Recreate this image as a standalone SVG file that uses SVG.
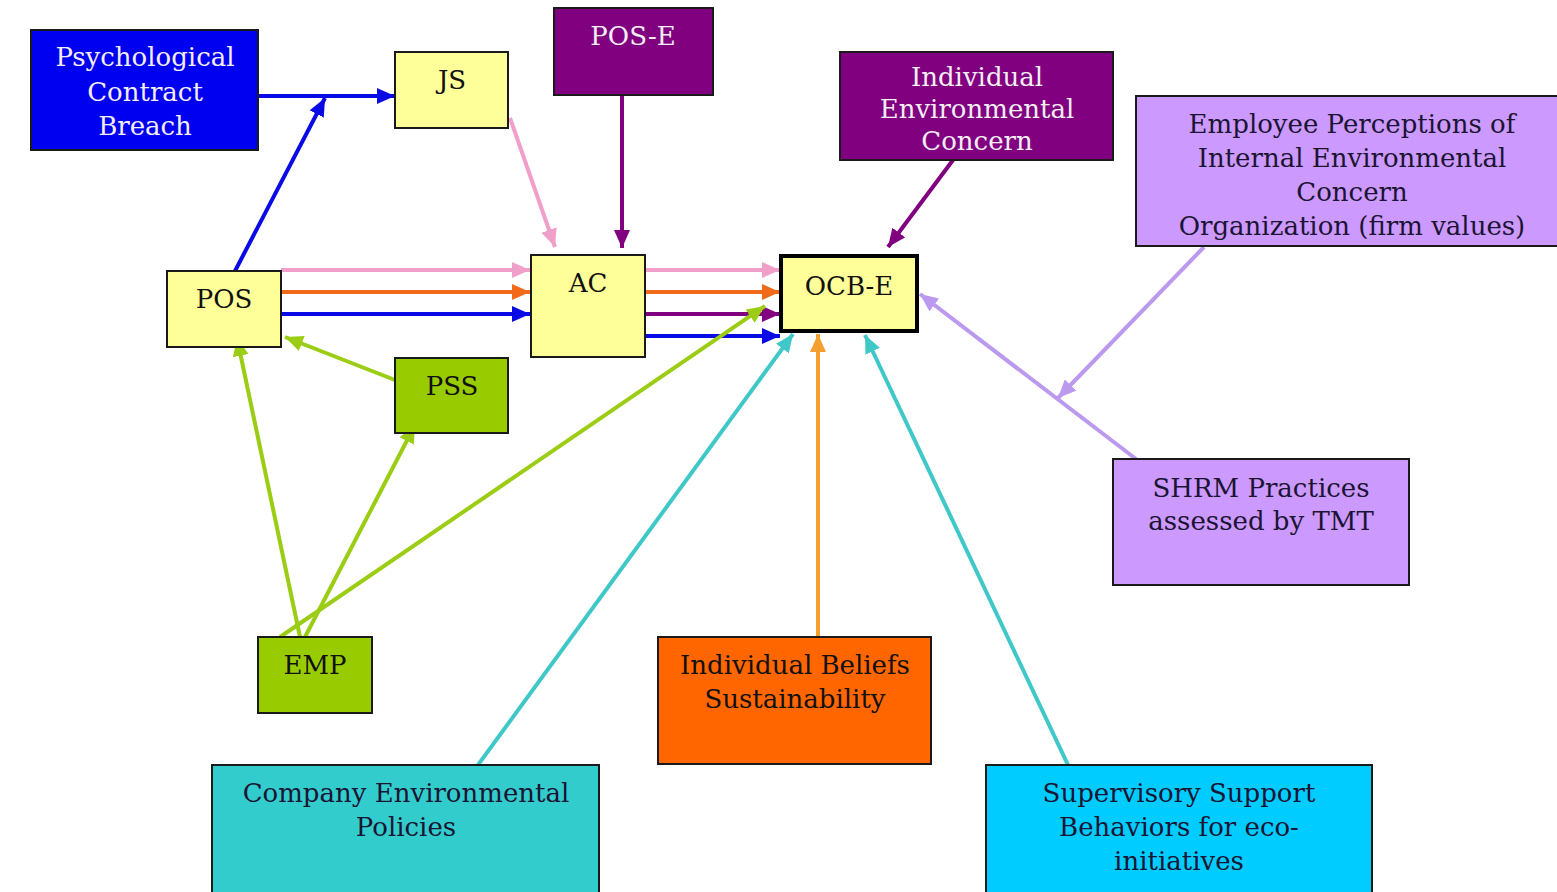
<svg xmlns="http://www.w3.org/2000/svg" width="1557" height="892" viewBox="0 0 1557 892">
  <style>
    .box { stroke: #1a1a1a; stroke-width: 2; }
    .lbl { font-family: "DejaVu Serif", "Liberation Serif", serif; font-size: 26px; text-anchor: middle; fill: #111; }
    .lt { fill: #f4eef4; }
    .dk { fill: #1b1433; }
    .c { fill: none; stroke-width: 4; }
  </style>
  <defs>
    <marker id="a-blue" markerUnits="userSpaceOnUse" markerWidth="18" markerHeight="16" refX="18" refY="8" orient="auto"><path d="M0,0 L18,8 L0,16 z" fill="#0a0ae6"/></marker>
    <marker id="a-pink" markerUnits="userSpaceOnUse" markerWidth="18" markerHeight="16" refX="18" refY="8" orient="auto"><path d="M0,0 L18,8 L0,16 z" fill="#f0a0c8"/></marker>
    <marker id="a-orange" markerUnits="userSpaceOnUse" markerWidth="18" markerHeight="16" refX="18" refY="8" orient="auto"><path d="M0,0 L18,8 L0,16 z" fill="#f06a1a"/></marker>
    <marker id="a-purple" markerUnits="userSpaceOnUse" markerWidth="18" markerHeight="16" refX="18" refY="8" orient="auto"><path d="M0,0 L18,8 L0,16 z" fill="#800080"/></marker>
    <marker id="a-green" markerUnits="userSpaceOnUse" markerWidth="18" markerHeight="16" refX="18" refY="8" orient="auto"><path d="M0,0 L18,8 L0,16 z" fill="#9acd14"/></marker>
    <marker id="a-lav" markerUnits="userSpaceOnUse" markerWidth="18" markerHeight="16" refX="18" refY="8" orient="auto"><path d="M0,0 L18,8 L0,16 z" fill="#bb99ee"/></marker>
    <marker id="a-teal" markerUnits="userSpaceOnUse" markerWidth="18" markerHeight="16" refX="18" refY="8" orient="auto"><path d="M0,0 L18,8 L0,16 z" fill="#40c8c8"/></marker>
    <marker id="a-amber" markerUnits="userSpaceOnUse" markerWidth="18" markerHeight="16" refX="18" refY="8" orient="auto"><path d="M0,0 L18,8 L0,16 z" fill="#f4a030"/></marker>
  </defs>

  <rect width="1557" height="892" fill="#ffffff"/>

  <!-- connectors -->
  <g id="connectors">
    <line class="c" x1="258" y1="96" x2="395" y2="96" stroke="#0a0ae6" marker-end="url(#a-blue)"/>
    <line class="c" x1="235" y1="271" x2="325" y2="98" stroke="#0a0ae6" marker-end="url(#a-blue)"/>
    <line class="c" x1="510" y1="118" x2="555" y2="247" stroke="#f0a0c8" marker-end="url(#a-pink)"/>
    <line class="c" x1="622" y1="95" x2="622" y2="248" stroke="#800080" marker-end="url(#a-purple)"/>

    <line class="c" x1="281" y1="270" x2="530" y2="270" stroke="#f0a0c8" marker-end="url(#a-pink)"/>
    <line class="c" x1="281" y1="292" x2="530" y2="292" stroke="#f06a1a" marker-end="url(#a-orange)"/>
    <line class="c" x1="281" y1="314" x2="530" y2="314" stroke="#0a0ae6" marker-end="url(#a-blue)"/>

    <line class="c" x1="645" y1="270" x2="780" y2="270" stroke="#f0a0c8" marker-end="url(#a-pink)"/>
    <line class="c" x1="645" y1="292" x2="780" y2="292" stroke="#f06a1a" marker-end="url(#a-orange)"/>
    <line class="c" x1="645" y1="314" x2="780" y2="314" stroke="#800080" marker-end="url(#a-purple)"/>
    <line class="c" x1="645" y1="336" x2="780" y2="336" stroke="#0a0ae6" marker-end="url(#a-blue)"/>

    <line class="c" x1="953" y1="160" x2="888" y2="247" stroke="#800080" marker-end="url(#a-purple)"/>
    <line class="c" x1="1204" y1="247" x2="1058" y2="398" stroke="#bb99ee" marker-end="url(#a-lav)"/>
    <line class="c" x1="1136" y1="459" x2="920" y2="294" stroke="#bb99ee" marker-end="url(#a-lav)"/>

    <line class="c" x1="395" y1="380" x2="285" y2="337" stroke="#9acd14" marker-end="url(#a-green)"/>
    <line class="c" x1="300" y1="637" x2="237" y2="338" stroke="#9acd14" marker-end="url(#a-green)"/>
    <line class="c" x1="305" y1="637" x2="415" y2="425" stroke="#9acd14" marker-end="url(#a-green)"/>
    <line class="c" x1="280" y1="637" x2="765" y2="306" stroke="#9acd14" marker-end="url(#a-green)"/>

    <line class="c" x1="478" y1="765" x2="793" y2="334" stroke="#40c8c8" marker-end="url(#a-teal)"/>
    <line class="c" x1="818" y1="637" x2="818" y2="334" stroke="#f4a030" marker-end="url(#a-amber)"/>
    <line class="c" x1="1068" y1="765" x2="865" y2="335" stroke="#40c8c8" marker-end="url(#a-teal)"/>
  </g>

  <!-- nodes -->
  <g id="pcb">
    <rect class="box" x="31" y="30" width="227" height="120" fill="#0000f0"/>
    <text class="lbl lt" x="145" y="66">Psychological</text>
    <text class="lbl lt" x="145" y="101">Contract</text>
    <text class="lbl lt" x="145" y="135">Breach</text>
  </g>
  <g id="js">
    <rect class="box" x="395" y="52" width="113" height="76" fill="#ffff99"/>
    <text class="lbl" x="452" y="89">JS</text>
  </g>
  <g id="pose">
    <rect class="box" x="554" y="8" width="159" height="87" fill="#800080"/>
    <text class="lbl lt" x="633" y="45">POS-E</text>
  </g>
  <g id="iec">
    <rect class="box" x="840" y="52" width="273" height="108" fill="#800080"/>
    <text class="lbl lt" x="977" y="86">Individual</text>
    <text class="lbl lt" x="977" y="118">Environmental</text>
    <text class="lbl lt" x="977" y="150">Concern</text>
  </g>
  <g id="epiec">
    <rect class="box" x="1136" y="96" width="425" height="150" fill="#cc99ff"/>
    <text class="lbl dk" x="1352" y="133">Employee Perceptions of</text>
    <text class="lbl dk" x="1352" y="167">Internal Environmental</text>
    <text class="lbl dk" x="1352" y="201">Concern</text>
    <text class="lbl dk" x="1352" y="235">Organization (firm values)</text>
  </g>
  <g id="pos">
    <rect class="box" x="167" y="271" width="114" height="76" fill="#ffff99"/>
    <text class="lbl" x="224" y="308">POS</text>
  </g>
  <g id="ac">
    <rect class="box" x="531" y="255" width="114" height="102" fill="#ffff99"/>
    <text class="lbl" x="588" y="292">AC</text>
  </g>
  <g id="ocbe">
    <rect x="781" y="256" width="136" height="75" fill="#ffff99" stroke="#000" stroke-width="4"/>
    <text class="lbl" x="849" y="295">OCB-E</text>
  </g>
  <g id="pss">
    <rect class="box" x="395" y="358" width="113" height="75" fill="#99cc00"/>
    <text class="lbl" x="452" y="395">PSS</text>
  </g>
  <g id="emp">
    <rect class="box" x="258" y="637" width="114" height="76" fill="#99cc00"/>
    <text class="lbl" x="315" y="674">EMP</text>
  </g>
  <g id="shrm">
    <rect class="box" x="1113" y="459" width="296" height="126" fill="#cc99ff"/>
    <text class="lbl dk" x="1261" y="497">SHRM Practices</text>
    <text class="lbl dk" x="1261" y="530">assessed by TMT</text>
  </g>
  <g id="ibs">
    <rect class="box" x="658" y="637" width="273" height="127" fill="#ff6600"/>
    <text class="lbl" x="795" y="674">Individual Beliefs</text>
    <text class="lbl" x="795" y="708">Sustainability</text>
  </g>
  <g id="cep">
    <rect class="box" x="212" y="765" width="387" height="130" fill="#33cccc"/>
    <text class="lbl dk" x="406" y="802">Company Environmental</text>
    <text class="lbl dk" x="406" y="836">Policies</text>
  </g>
  <g id="ssb">
    <rect class="box" x="986" y="765" width="386" height="130" fill="#00ccff"/>
    <text class="lbl dk" x="1179" y="802">Supervisory Support</text>
    <text class="lbl dk" x="1179" y="836">Behaviors for eco-</text>
    <text class="lbl dk" x="1179" y="870">initiatives</text>
  </g>
</svg>
